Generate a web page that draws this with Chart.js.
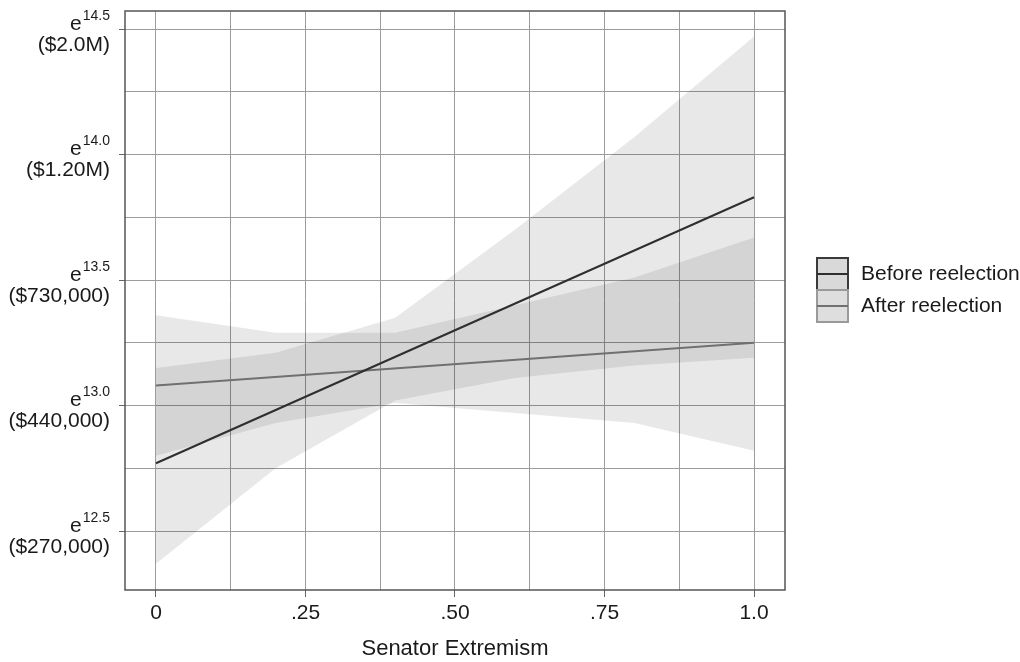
<!DOCTYPE html>
<html>
<head>
<meta charset="utf-8">
<script src="https://cdn.jsdelivr.net/npm/chart.js@4"></script>
<style>
  html, body { margin: 0; padding: 0; background: #fff; }
</style>
</head>
<body>
<canvas id="extremismChart" width="1020" height="662"></canvas>
<script>
// values (log of contributions)
const seriesNames = ['Before reelection', 'After reelection'];
const lineX = [0, 1];
const beforeLine = [12.77, 13.83];
const afterLine = [13.08, 13.25];

// confidence bands
const bandX = [0, 0.2, 0.4, 0.6, 0.8, 1.0];
const beforeUpper = [13.15, 13.21, 13.35, 13.70, 14.07, 14.47];
const beforeLower = [12.37, 12.75, 13.02, 13.11, 13.16, 13.19];
const afterUpper = [13.36, 13.29, 13.29, 13.40, 13.51, 13.67];
const afterLower = [12.80, 12.93, 13.01, 12.97, 12.93, 12.82];

// axes
const xTickVals = [0, 0.125, 0.25, 0.375, 0.5, 0.625, 0.75, 0.875, 1.0];
const xTickLabels = ['0', '', '.25', '', '.50', '', '.75', '', '1.0'];
const yTickVals = [12.5, 12.75, 13.0, 13.25, 13.5, 13.75, 14.0, 14.25, 14.5];
const yLabelVals = [12.5, 13.0, 13.5, 14.0, 14.5];
const yExponents = ['12.5', '13.0', '13.5', '14.0', '14.5'];
const yDollars = ['($270,000)', '($440,000)', '($730,000)', '($1.20M)', '($2.0M)'];

const FONT = '"Liberation Sans", Arial, Helvetica, sans-serif';
const TEXT = '#1a1a1a';

function pts(xs, ys) {
    return xs.map((x, i) => ({ x: x, y: ys[i] }));
}

const bandFill = 'rgba(0, 0, 0, 0.09)';

// box around the plot, y labels with superscripts, and the legend
const decorPlugin = {
    id: 'decor',
    afterDraw(chart) {
        const ctx = chart.ctx;
        const a = chart.chartArea;
        const ys = chart.scales.y;
        ctx.save();

        ctx.strokeStyle = '#555';
        ctx.lineWidth = 1.5;
        ctx.strokeRect(a.left, a.top, a.right - a.left, a.bottom - a.top);

        // y labels: e^x over the dollar amount
        const rightEdge = 110;
        ctx.fillStyle = TEXT;
        ctx.textAlign = 'right';
        ctx.textBaseline = 'middle';
        yLabelVals.forEach((v, i) => {
            const py = ys.getPixelForValue(v);
            ctx.font = '14px ' + FONT;
            const supW = ctx.measureText(yExponents[i]).width;
            ctx.fillText(yExponents[i], rightEdge, py - 13);
            ctx.font = '21px ' + FONT;
            ctx.fillText('e', rightEdge - supW - 1, py - 5);
            ctx.fillText(yDollars[i], rightEdge, py + 16);
        });

        // legend
        const boxX = 817, boxW = 31, boxH = 32;
        const legendTop = 258;
        const legendStyle = [
            { fill: '#d9d9d9', edge: '#3a3a3a', line: '#2e2e2e' },
            { fill: '#dedede', edge: '#9a9a9a', line: '#707070' },
        ];
        seriesNames.forEach((name, i) => {
            const top = legendTop + i * boxH;
            const s = legendStyle[i];
            ctx.fillStyle = s.fill;
            ctx.fillRect(boxX, top, boxW, boxH);
            ctx.strokeStyle = s.edge;
            ctx.lineWidth = 2;
            ctx.strokeRect(boxX, top, boxW, boxH);
            ctx.strokeStyle = s.line;
            ctx.beginPath();
            ctx.moveTo(boxX, top + boxH / 2);
            ctx.lineTo(boxX + boxW, top + boxH / 2);
            ctx.stroke();
            ctx.fillStyle = TEXT;
            ctx.font = '21px ' + FONT;
            ctx.textAlign = 'left';
            ctx.fillText(name, 861, top + boxH / 2);
        });

        ctx.restore();
    }
};

const ctx = document.getElementById('extremismChart').getContext('2d');

new Chart(ctx, {
    type: 'line',
    data: {
        datasets: [
            {
                label: seriesNames[0],
                data: pts(lineX, beforeLine),
                borderColor: '#2e2e2e',
                borderWidth: 2,
                pointRadius: 0,
                fill: false,
            },
            {
                label: seriesNames[1],
                data: pts(lineX, afterLine),
                borderColor: '#707070',
                borderWidth: 2,
                pointRadius: 0,
                fill: false,
            },
            {
                label: 'before upper',
                data: pts(bandX, beforeUpper),
                borderWidth: 0,
                borderColor: 'transparent',
                pointRadius: 0,
                backgroundColor: bandFill,
                fill: '+1',
            },
            {
                label: 'before lower',
                data: pts(bandX, beforeLower),
                borderWidth: 0,
                borderColor: 'transparent',
                pointRadius: 0,
                fill: false,
            },
            {
                label: 'after upper',
                data: pts(bandX, afterUpper),
                borderWidth: 0,
                borderColor: 'transparent',
                pointRadius: 0,
                backgroundColor: bandFill,
                fill: '+1',
            },
            {
                label: 'after lower',
                data: pts(bandX, afterLower),
                borderWidth: 0,
                borderColor: 'transparent',
                pointRadius: 0,
                fill: false,
            },
        ]
    },
    options: {
        responsive: false,
        animation: false,
        layout: {
            padding: { top: 11, right: 235, left: 0, bottom: 0 }
        },
        plugins: {
            legend: { display: false },
            tooltip: { enabled: false },
            title: { display: false },
        },
        scales: {
            x: {
                type: 'linear',
                min: -0.0518,
                max: 1.0518,
                afterBuildTicks: (scale) => {
                    scale.ticks = xTickVals.map(v => ({ value: v }));
                },
                afterFit: (scale) => {
                    scale.height = 72;
                },
                grid: {
                    color: '#9c9c9c',
                    lineWidth: 1,
                    tickLength: 7,
                    tickColor: (c) => (xTickLabels[c.index] ? '#666' : 'transparent'),
                },
                border: { display: false },
                ticks: {
                    autoSkip: false,
                    maxRotation: 0,
                    padding: 4,
                    color: TEXT,
                    font: { family: FONT, size: 21 },
                    callback: (value, index) => xTickLabels[index],
                },
                title: {
                    display: true,
                    text: 'Senator Extremism',
                    color: TEXT,
                    font: { family: FONT, size: 22 },
                    padding: { top: 11, bottom: 0 },
                },
            },
            y: {
                type: 'linear',
                min: 12.265,
                max: 14.572,
                afterBuildTicks: (scale) => {
                    scale.ticks = yTickVals.map(v => ({ value: v }));
                },
                afterFit: (scale) => {
                    scale.width = 125;
                },
                grid: {
                    color: '#9c9c9c',
                    lineWidth: 1,
                    tickLength: 6,
                    tickColor: (c) => (yLabelVals.includes(yTickVals[c.index]) ? '#666' : 'transparent'),
                },
                border: { display: false },
                ticks: {
                    padding: 0,
                    callback: () => '',
                },
            }
        }
    },
    plugins: [decorPlugin]
});
</script>
</body>
</html>
